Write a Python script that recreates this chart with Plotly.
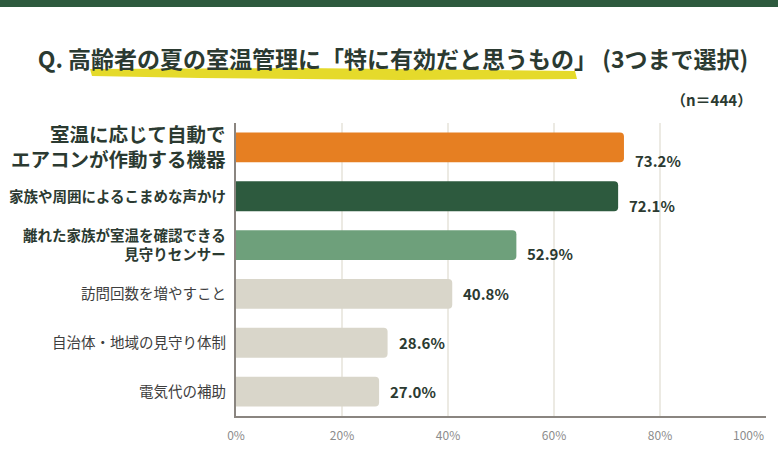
import plotly.graph_objects as go

# data
categories = [
    "室温に応じて自動でエアコンが作動する機器",
    "家族や周囲によるこまめな声かけ",
    "離れた家族が室温を確認できる見守りセンサー",
    "訪問回数を増やすこと",
    "自治体・地域の見守り体制",
    "電気代の補助",
]
label_lines = [
    "室温に応じて自動で<br>エアコンが作動する機器",
    "家族や周囲によるこまめな声かけ",
    "離れた家族が室温を確認できる<br>見守りセンサー",
    "訪問回数を増やすこと",
    "自治体・地域の見守り体制",
    "電気代の補助",
]
values = [73.2, 72.1, 52.9, 40.8, 28.6, 27.0]
x_ticks = [0, 20, 40, 60, 80, 100]
x_ticktext = ["0%", "20%", "40%", "60%", "80%", ""]
last_tick = "100%"

title_text = "Q. 高齢者の夏の室温管理に「特に有効だと思うもの」 (3つまで選択)"
sample_text = "（n＝444）"

# styles
bar_colors = ["#E67F22", "#2D5A3E", "#6EA07B", "#D9D6CA", "#D9D6CA", "#D9D6CA"]
label_sizes = [19.5, 14.5, 14.5, 14.5, 14.5, 14.5]
label_bold = [True, True, True, False, False, False]
value_dy = [-13, -9, -8, 0, 0, 0]
JP = "Noto Sans CJK JP"
DARK = "#2B3A31"

W, H = 778, 449
L, R, T, B = 236, 12, 123, 33


def px(x, y):
    # pixel position -> paper coordinates of the plot area
    return (x - L) / (W - L - R), (H - B - y) / (H - T - B)


fig = go.Figure()
fig.add_trace(go.Bar(
    x=values, y=categories, orientation="h",
    marker=dict(color=bar_colors, line=dict(width=0)),
    width=0.61, hoverinfo="skip",
))

annotations = []
for cat, lab, size, bold in zip(categories, label_lines, label_sizes, label_bold):
    annotations.append(dict(
        x=0, xref="paper", y=cat, yref="y", xanchor="right", yanchor="middle",
        xshift=-8, yshift=1, align="right", showarrow=False,
        text=f"<b>{lab}</b>" if bold else lab,
        font=dict(family=JP, size=size, color=DARK if bold else "#3E3E3E"),
    ))
for cat, v, dy in zip(categories, values, value_dy):
    annotations.append(dict(
        x=v, y=cat, xanchor="left", yanchor="middle", xshift=9, yshift=dy,
        showarrow=False, text=f"<b>{v:.1f}%</b>",
        font=dict(family=JP, size=15, color=DARK),
    ))
# last tick label sits inside the right edge
annotations.append(dict(
    x=x_ticks[-1], xref="x", y=0, yref="paper", xanchor="right", yanchor="top",
    yshift=-8, showarrow=False, text=last_tick,
    font=dict(family=JP, size=12, color="#8C8C8C"),
))
nx, ny = px(754, 100)
annotations.append(dict(
    x=nx, y=ny, xref="paper", yref="paper", xanchor="right", yanchor="middle",
    showarrow=False, text=f"<b>{sample_text}</b>",
    font=dict(family=JP, size=15, color=DARK),
))

shapes = []
# top band
x0, y0 = px(0, 0)
x1, y1 = px(W, 7)
shapes.append(dict(type="rect", xref="paper", yref="paper", x0=x0, y0=y0, x1=x1, y1=y1,
                   fillcolor="#2D5A3E", line=dict(width=0), layer="below"))
# yellow brush stroke under the title
pts = [(90, 69), (300, 68), (575, 71), (577, 79), (400, 80), (200, 78), (92, 76)]
path = "M " + " L ".join(f"{px(a, b)[0]:.4f},{px(a, b)[1]:.4f}" for a, b in pts) + " Z"
shapes.append(dict(type="path", xref="paper", yref="paper", path=path,
                   fillcolor="#E2D614", opacity=0.9, line=dict(width=0), layer="below"))

fig.update_layout(
    width=W, height=H,
    margin=dict(l=L, r=R, t=T, b=B, autoexpand=False),
    paper_bgcolor="white", plot_bgcolor="white",
    showlegend=False, barcornerradius=4,
    title=dict(text=f"<b>{title_text}</b>", x=393 / W, xanchor="center",
               y=1 - 60 / H, yanchor="middle",
               font=dict(family=JP, size=23, color=DARK)),
    annotations=annotations, shapes=shapes,
    xaxis=dict(range=[0, 100], tickvals=x_ticks, ticktext=x_ticktext,
               showgrid=True, gridcolor="#ECEAE3", gridwidth=2,
               zeroline=False, showline=True, linecolor="#8A8580", linewidth=2,
               ticks="", ticklabelstandoff=8, automargin=False,
               tickfont=dict(family=JP, size=12, color="#8C8C8C"),
               fixedrange=True),
    yaxis=dict(type="category", categoryorder="array", categoryarray=categories,
               range=[5.5, -0.5], showticklabels=False, showgrid=False,
               zeroline=False, showline=True, linecolor="#8A8580", linewidth=2,
               ticks="", fixedrange=True),
)

fig.write_html("out.html", config={"displayModeBar": False},
               post_script="document.body.style.margin='0';")
